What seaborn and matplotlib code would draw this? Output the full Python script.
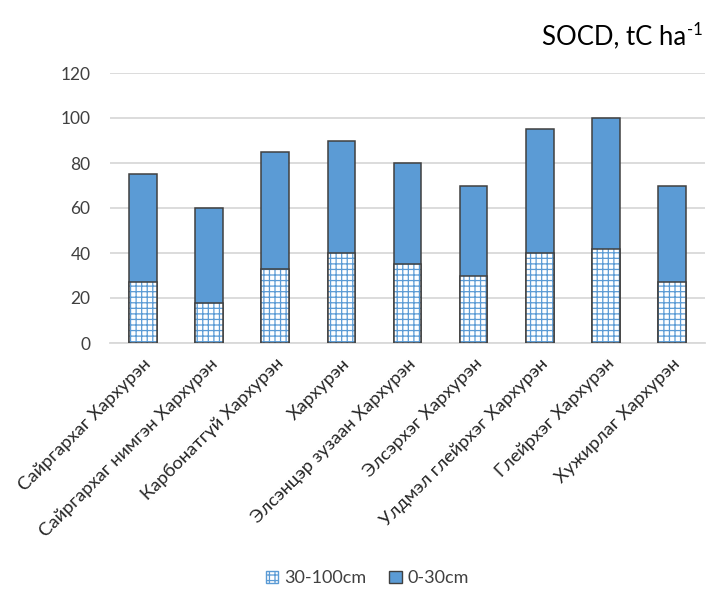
import matplotlib
matplotlib.use("Agg")
import matplotlib.pyplot as plt
from matplotlib.patches import Patch
import seaborn as sns
import pandas as pd

soil_types = [
    "Сайргархаг Хархурэн",
    "Сайргархаг нимгэн Хархурэн",
    "Карбонатгүй Хархурэн",
    "Хархурэн",
    "Элсэнцэр зузаан Хархурэн",
    "Элсэрхэг Хархурэн",
    "Улдмэл глейрхэг Хархурэн",
    "Глейрхэг Хархурэн",
    "Хужирлаг Хархурэн",
]
socd_30_100 = [27, 18, 33, 40, 35, 30, 40, 42, 27]
socd_0_30 = [48, 42, 52, 50, 45, 40, 55, 58, 43]
y_ticks = [0, 20, 40, 60, 80, 100, 120]

df = pd.DataFrame({
    "soil": soil_types,
    "deep": socd_30_100,
    "top": socd_0_30,
})
df["total"] = df["deep"] + df["top"]

BLUE = "#5B9BD5"
EDGE = "#404040"
GRID = "#D9D9D9"

sns.set_theme(style="white")
plt.rcParams["font.family"] = ["Lato", "Open Sans", "DejaVu Sans"]
plt.rcParams["hatch.linewidth"] = 0.9

fig = plt.figure(figsize=(7.13, 5.89), dpi=100)
ax = fig.add_axes([110 / 713, (589 - 343) / 589, 595 / 713, 270 / 589])

# full stack height in solid blue (the 0-30cm layer shows above the deeper one)
sns.barplot(data=df, x="soil", y="total", color=BLUE, saturation=1,
            width=0.42, edgecolor=EDGE, linewidth=1.1, ax=ax, zorder=3)
# deeper 30-100cm layer: white with a blue grid hatch
sns.barplot(data=df, x="soil", y="deep", color="white", saturation=1,
            width=0.42, edgecolor=BLUE, linewidth=0, hatch="+++", ax=ax, zorder=4)
# outline of the deeper layer
sns.barplot(data=df, x="soil", y="deep", fill=False, width=0.42,
            edgecolor=EDGE, linewidth=1.1, ax=ax, zorder=5)

ax.set_ylim(0, 120)
ax.set_yticks(y_ticks)
ax.set_yticklabels([str(t) for t in y_ticks], fontsize=12.5, color="#404040")
ax.set_xlim(-0.5, len(soil_types) - 0.5)
ax.set_xlabel("")
ax.set_ylabel("")
ax.yaxis.grid(True, color=GRID, linewidth=1.3, zorder=0)
ax.set_axisbelow(True)
for side in ["left", "right", "top"]:
    ax.spines[side].set_visible(False)
ax.spines["bottom"].set_color(GRID)
ax.spines["bottom"].set_linewidth(1.3)
ax.tick_params(axis="y", length=0, pad=14)
ax.tick_params(axis="x", length=0, pad=9)
ax.set_xticks(range(len(soil_types)))
ax.set_xticklabels(soil_types, rotation=45, ha="right", rotation_mode="anchor",
                   fontsize=13.2, color="#262626")

# unit title with a plain-hyphen superscript
title = fig.text(0.962, 0.937, "SOCD, tC ha", ha="right", va="center",
                 fontsize=18.5, color="#000000")
ax.annotate("-1", xy=(1.0, 0.78), xycoords=title, xytext=(1, 0),
            textcoords="offset points", ha="left", va="center",
            fontsize=12, color="#000000", annotation_clip=False)

handles = [
    Patch(facecolor="white", edgecolor=BLUE, hatch="+++", linewidth=1.0, label="30-100cm"),
    Patch(facecolor=BLUE, edgecolor=EDGE, linewidth=1.0, label="0-30cm"),
]
fig.legend(handles=handles, loc="center", bbox_to_anchor=(0.515, 0.018),
           ncol=2, frameon=False, fontsize=13, handlelength=0.7, handleheight=0.7,
           handletextpad=0.3, columnspacing=1.3, labelcolor="#404040")

fig.savefig("out.png", dpi=100)
